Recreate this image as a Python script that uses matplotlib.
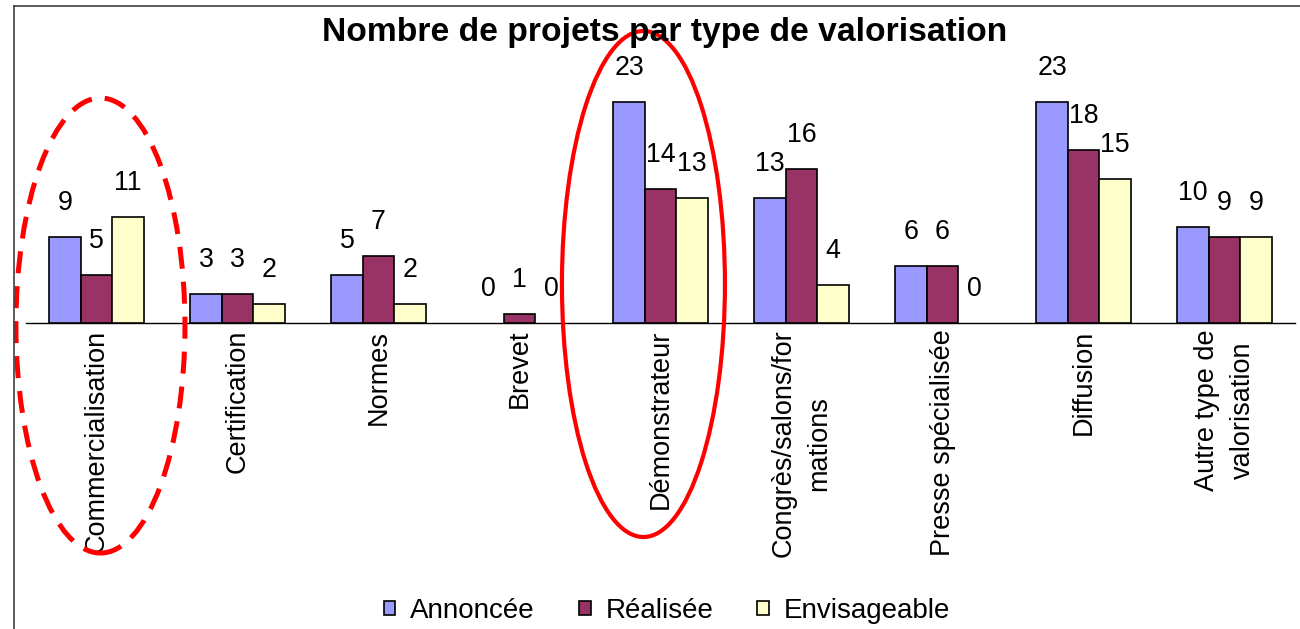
import matplotlib
matplotlib.use("Agg")
import matplotlib.pyplot as plt
from matplotlib.patches import Ellipse, Patch
from matplotlib.lines import Line2D
import numpy as np

plt.rcParams['font.family'] = ['Liberation Sans', 'DejaVu Sans']

categories = ["Commercialisation", "Certification", "Normes", "Brevet",
              "Démonstrateur", "Congrès/salons/for\nmations", "Presse spécialisée",
              "Diffusion", "Autre type de\nvalorisation"]
series_names = ["Annoncée", "Réalisée", "Envisageable"]
annoncee = [9, 3, 5, 0, 23, 13, 6, 23, 10]
realisee = [5, 3, 7, 1, 14, 16, 6, 18, 9]
envisageable = [11, 2, 2, 0, 13, 4, 0, 15, 9]
title = "Nombre de projets par type de valorisation"

colors = ["#9999FF", "#993366", "#FFFFCC"]

W, H, DPI = 1300, 629, 100
fig = plt.figure(figsize=(W / DPI, H / DPI), dpi=DPI)

# axes placement (pixels)
ax_left, ax_right = 26, 1295
ax_base, ax_top = 323.3, 82.8
ax = fig.add_axes([ax_left / W, 1 - ax_base / H,
                   (ax_right - ax_left) / W, (ax_base - ax_top) / H])

x = np.arange(len(categories))
bw = 0.2234
all_series = [annoncee, realisee, envisageable]
for i, (vals, col) in enumerate(zip(all_series, colors)):
    xs = x + (i - 1) * bw
    edges = ["black" if v > 0 else "none" for v in vals]
    ax.bar(xs, vals, width=bw, color=col, edgecolor=edges, linewidth=1.2,
           zorder=3)
    for xi, v in zip(xs, vals):
        ax.annotate(str(v), (xi, v), xytext=(0, 24.5), textcoords="offset points",
                    ha="center", va="center", fontsize=19.3, color="black")

ax.set_xlim(-0.5, len(categories) - 0.5)
ax.set_ylim(0, 25)
for s in ["top", "left", "right"]:
    ax.spines[s].set_visible(False)
ax.spines["bottom"].set_linewidth(1.0)
ax.set_yticks([])
ax.set_xticks(x)
ax.set_xticklabels(categories, rotation=90, fontsize=19.5)
for lbl in ax.get_xticklabels():
    lbl.set_multialignment("center")
    lbl.set_linespacing(1.5)
ax.tick_params(axis="x", length=0, pad=4.5)
ax.patch.set_visible(False)

# title
fig.text(664.5 / W, 1 - 33 / H, title, ha="center", va="center",
         fontsize=24.2, fontweight="bold")

# legend
handles = [Patch(facecolor=c, edgecolor="black", linewidth=1.2) for c in colors]
fig.legend(handles, series_names, loc="center", ncol=3, frameon=False,
           bbox_to_anchor=(667 / W, 1 - 611 / H), fontsize=20,
           handlelength=0.42, handleheight=0.42, handletextpad=0.54,
           columnspacing=1.58, borderpad=0)

# red highlight ellipses (annotations)
ell1 = Ellipse((0.028, -0.23), 1.199, 47.3, fill=False, edgecolor="red",
               linewidth=3.6, linestyle=(0, (4.4, 2.6)), clip_on=False, zorder=5)
ell2 = Ellipse((3.879, 4.085), 1.156, 52.6, fill=False, edgecolor="red",
               linewidth=3.0, clip_on=False, zorder=5)
ax.add_patch(ell1)
ax.add_patch(ell2)

# outer frame (partial, as in the reference)
fig.add_artist(Line2D([14 / W, 14 / W], [0, 1 - 6 / H], color="#404040",
                      linewidth=1.2, transform=fig.transFigure))
fig.add_artist(Line2D([14 / W, 1], [1 - 6 / H, 1 - 6 / H], color="#404040",
                      linewidth=1.2, transform=fig.transFigure))

fig.savefig("out.png", dpi=DPI)
